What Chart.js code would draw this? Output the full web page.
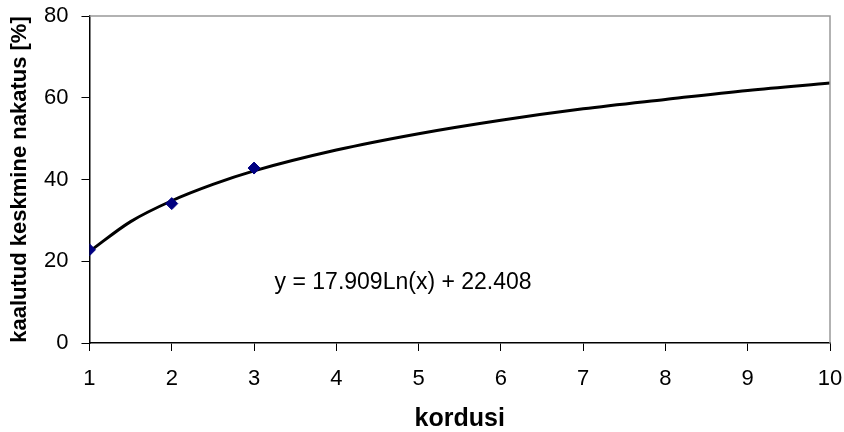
<!DOCTYPE html>
<html>
<head>
<meta charset="utf-8">
<script src="https://cdn.jsdelivr.net/npm/chart.js@4.4.0/dist/chart.umd.min.js"></script>
<style>
  html, body { margin: 0; padding: 0; background: #fff; }
  #wrap { width: 844px; height: 432px; }
</style>
</head>
<body>
<div id="wrap"><canvas id="kordchart" width="844" height="432"></canvas></div>
<script>
// measured points
const pointX = [1, 2, 3];
const pointY = [22.8, 34.1, 42.8];
// trend curve
const trendX = [1, 1.5, 2, 2.5, 3, 4, 5, 6, 7, 8, 9, 10];
const trendY = [22.4, 29.7, 34.8, 38.8, 42.1, 47.2, 51.2, 54.5, 57.3, 59.6, 61.8, 63.6];
const yTicks = [0, 20, 40, 60, 80];
const eqText = 'y = 17.909Ln(x) + 22.408';

const ctxK = document.getElementById('kordchart');
const FAM = '"Liberation Sans", Arial, sans-serif';

const frame = {
  id: 'frame',
  afterDraw(chart) {
    const c = chart.ctx, a = chart.chartArea;
    c.save();
    c.strokeStyle = '#999999';
    c.lineWidth = 1.5;
    c.beginPath();
    c.moveTo(a.left, a.top);
    c.lineTo(a.right, a.top);
    c.lineTo(a.right, a.bottom);
    c.stroke();
    // equation label
    const xs = chart.scales.x, ys = chart.scales.y;
    c.fillStyle = '#000';
    c.font = '23px ' + FAM;
    c.textAlign = 'left';
    c.textBaseline = 'middle';
    c.fillText(eqText, xs.getPixelForValue(3.25), ys.getPixelForValue(14.8));
    c.restore();
  }
};

function pts(xs, ys) {
  return xs.map((v, i) => ({ x: v, y: ys[i] }));
}

// stop tick labels from pushing the plot area in
function noEdgePad(s) {
  s.paddingTop = 0; s.paddingBottom = 0; s.paddingLeft = 0; s.paddingRight = 0;
}

new Chart(ctxK, {
  type: 'scatter',
  data: {
    datasets: [{
      label: 'trend',
      data: pts(trendX, trendY),
      showLine: true,
      borderColor: '#000',
      borderWidth: 3,
      pointRadius: 0,
      cubicInterpolationMode: 'monotone',
      order: 2
    }, {
      label: 'kordused',
      data: pts(pointX, pointY),
      pointStyle: 'rectRot',
      pointRadius: 6,
      backgroundColor: '#000080',
      borderColor: '#000080',
      borderWidth: 1,
      order: 1
    }]
  },
  options: {
    responsive: false,
    animation: false,
    layout: { padding: { left: 9, right: 14, top: 16, bottom: 0 } },
    plugins: { legend: { display: false }, tooltip: { enabled: false } },
    scales: {
      x: {
        type: 'linear', min: 1, max: 10,
        afterFit: noEdgePad,
        ticks: { stepSize: 1, color: '#000', padding: 17, font: { size: 22, family: FAM, lineHeight: 1 } },
        grid: { drawOnChartArea: false, tickLength: 8, color: '#000' },
        border: { color: '#000', width: 1.5 },
        title: { display: true, text: 'kordusi', color: '#000', padding: { top: 0, bottom: 0 },
          font: { size: 25, weight: 'bold', family: FAM, lineHeight: 1 } }
      },
      y: {
        min: 0, max: 80,
        afterBuildTicks(s) { s.ticks = yTicks.map(v => ({ value: v })); },
        afterFit: noEdgePad,
        ticks: { color: '#000', padding: 13, font: { size: 22, family: FAM, lineHeight: 1 } },
        grid: { drawOnChartArea: false, tickLength: 8, color: '#000' },
        border: { color: '#000', width: 1.5 },
        title: { display: true, text: 'kaalutud keskmine nakatus [%]', color: '#000', padding: { top: 0, bottom: 0 },
          font: { size: 22, weight: 'bold', family: FAM, lineHeight: 1 } }
      }
    }
  },
  plugins: [frame]
});
</script>
</body>
</html>
